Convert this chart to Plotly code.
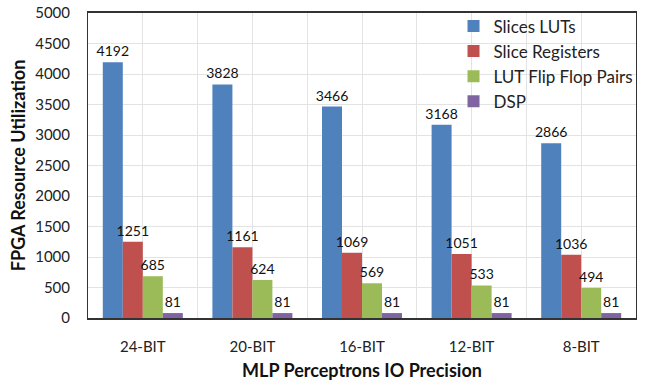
import plotly.graph_objects as go

categories = ["24-BIT", "20-BIT", "16-BIT", "12-BIT", "8-BIT"]
slices_luts = [4192, 3828, 3466, 3168, 2866]
slice_registers = [1251, 1161, 1069, 1051, 1036]
lut_ff_pairs = [685, 624, 569, 533, 494]
dsp = [81, 81, 81, 81, 81]

series = [
    ("Slices LUTs", slices_luts, "#4F81BD"),
    ("Slice Registers", slice_registers, "#C0504D"),
    ("LUT Flip Flop Pairs", lut_ff_pairs, "#9BBB59"),
    ("DSP", dsp, "#8064A2"),
]

xpos = list(range(len(categories)))
font_family = "Lato, Open Sans, sans-serif"

fig = go.Figure()
for name, vals, color in series:
    fig.add_trace(go.Bar(
        x=xpos, y=vals, name=name, legendgroup=name,
        marker=dict(color=color, line=dict(width=0)),
        text=[str(v) for v in vals], textposition="outside",
        constraintext="none",
        textfont=dict(size=14, color="#111111", family=font_family),
        cliponaxis=False,
    ))

fig.update_layout(
    width=648, height=385,
    margin=dict(l=88, r=12, t=13, b=67, autoexpand=False),
    barmode="group", bargap=0.27, bargroupgap=0,
    plot_bgcolor="white", paper_bgcolor="white",
    font=dict(family=font_family, color="#222222"),
    legend=dict(x=0.667, y=1.015, xanchor="left", yanchor="top",
                bgcolor="rgba(0,0,0,0)", font=dict(size=17, color="#222222"),
                tracegroupgap=4, itemwidth=30, traceorder="normal"),
)
fig.update_xaxes(
    range=[-0.5, 4.5], tickvals=xpos, ticktext=categories,
    showgrid=True, gridcolor="#E3E3E3", gridwidth=1,
    minor=dict(tickvals=[i + 0.5 for i in range(-1, 5)], showgrid=True, gridcolor="#E3E3E3"),
    showline=True, linecolor="#333333", linewidth=2, mirror=True,
    ticks="", tickfont=dict(size=15, color="#222222"), ticklabelstandoff=14,
    title=dict(text="<b>MLP Perceptrons IO Precision</b>", font=dict(size=18, color="#111111"), standoff=10),
    zeroline=False, automargin=False,
)
fig.update_yaxes(
    range=[0, 5000], dtick=500,
    showgrid=True, gridcolor="#E3E3E3", gridwidth=1,
    showline=True, linecolor="#333333", linewidth=1, mirror=True,
    ticks="", tickfont=dict(size=15, color="#222222"), ticklabelstandoff=14,
    title=dict(text="<b>FPGA Resource Utilization</b>", font=dict(size=18, color="#111111"), standoff=4),
    zeroline=False, automargin=False,
)
fig.write_html("out.html", config={"displayModeBar": False},
               post_script="document.body.style.margin='0';")
